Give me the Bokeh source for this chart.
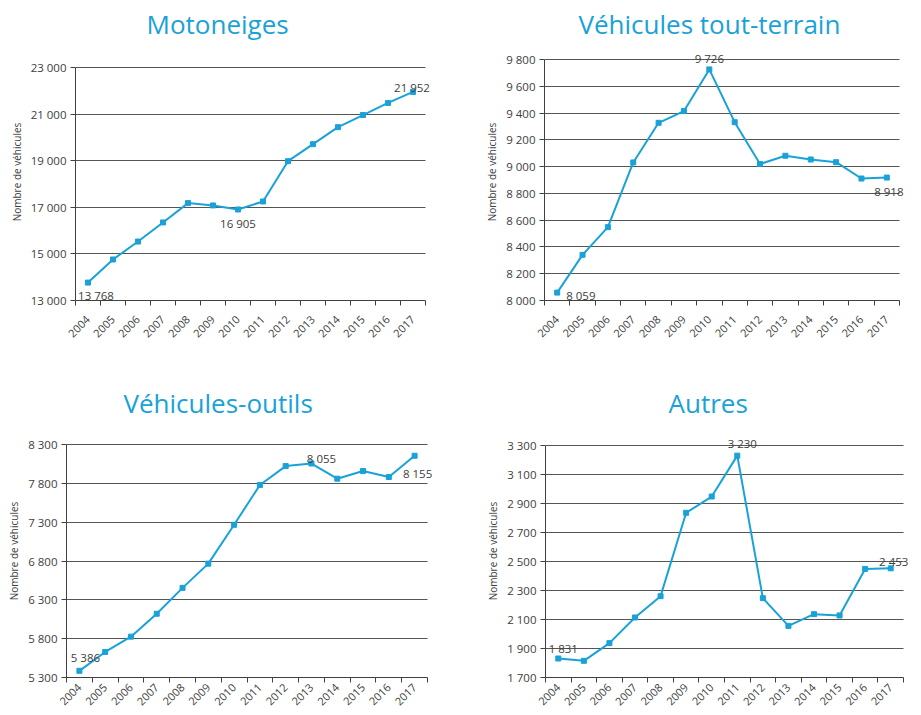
import math
from bokeh.plotting import figure
from bokeh.models import Range1d, FixedTicker, Label
from bokeh.layouts import column, row
from bokeh.embed import file_html
from bokeh.resources import INLINE

# ---------------- data ----------------
years = list(range(2004, 2018))

titles = ["Motoneiges", "Véhicules tout-terrain", "Véhicules-outils", "Autres"]
y_axis_label = "Nombre de véhicules"

motoneiges = [13768, 14760, 15530, 16350, 17180, 17080, 16905, 17250, 18980, 19710, 20440, 20960, 21480, 21952]
vtt = [8059, 8341, 8548, 9031, 9327, 9415, 9726, 9332, 9019, 9081, 9053, 9033, 8911, 8918]
outils = [5386, 5629, 5826, 6121, 6454, 6766, 7266, 7779, 8022, 8055, 7860, 7958, 7881, 8155]
autres = [1831, 1815, 1937, 2114, 2261, 2836, 2948, 3230, 2247, 2056, 2137, 2128, 2449, 2453]

yticks_moto = [13000, 15000, 17000, 19000, 21000, 23000]
yticks_vtt = [8000, 8200, 8400, 8600, 8800, 9000, 9200, 9400, 9600, 9800]
yticks_outils = [5300, 5800, 6300, 6800, 7300, 7800, 8300]
yticks_autres = [1700, 1900, 2100, 2300, 2500, 2700, 2900, 3100, 3300]

# indices of labelled points per panel
labelled_moto = [0, 6, 13]
labelled_vtt = [0, 6, 13]
labelled_outils = [0, 9, 13]
labelled_autres = [0, 7, 13]

# ---------------- style ----------------
BLUE = "#19a2d8"
TXT = "#404040"
GRID = "#555555"
FONT = "Open Sans"
PAD_R = 7  # px of free room right of the last category (for data labels)


def fmt(v):
    return f"{v:,}".replace(",", " ")


def make_panel(title, values, yticks, labelled, label_pos, geom, borders,
               title_offset, title_standoff, xlab_standoff):
    # geom: plot-area pixel geometry (inside the figure)
    area_w, pad_top, area_h = geom
    left, right, top, bottom = borders
    ymin, ymax = yticks[0], yticks[-1]
    px_per_cat = area_w / len(years)
    px_per_unit = area_h / (ymax - ymin)
    x0 = years[0] - 0.5
    x1 = years[-1] + 0.5
    p = figure(frame_width=area_w + PAD_R, frame_height=area_h + pad_top,
               min_border_left=left, min_border_right=right,
               min_border_top=top, min_border_bottom=bottom,
               x_range=Range1d(x0, x1 + PAD_R / px_per_cat),
               y_range=Range1d(ymin, ymax + pad_top / px_per_unit),
               output_backend="svg", toolbar_location=None, tools="",
               title=title)
    p.title.align = "left"
    p.title.offset = title_offset
    p.title.standoff = title_standoff
    p.title.text_font = FONT
    p.title.text_font_size = "26px"
    p.title.text_font_style = "normal"
    p.title.text_color = BLUE
    p.outline_line_color = None
    p.background_fill_color = "white"
    p.border_fill_color = "white"

    p.xgrid.visible = False
    yg = p.ygrid[0]
    yg.ticker = FixedTicker(ticks=yticks)
    yg.grid_line_color = GRID
    yg.grid_line_width = 1.1
    try:
        yg.cross_bounds = (x0, x1)
    except Exception:
        pass

    ya = p.yaxis[0]
    ya.ticker = FixedTicker(ticks=yticks, minor_ticks=[])
    ya.bounds = (ymin, ymax)
    ya.major_label_overrides = {t: fmt(t) for t in yticks}
    ya.major_tick_out = 5
    ya.major_tick_in = 0
    ya.minor_tick_out = 0
    ya.minor_tick_in = 0
    ya.axis_line_color = TXT
    ya.major_tick_line_color = TXT
    ya.major_label_text_font = FONT
    ya.major_label_text_font_size = "11.5px"
    ya.major_label_text_color = TXT
    ya.major_label_standoff = 4
    ya.axis_label = y_axis_label
    ya.axis_label_text_font = FONT
    ya.axis_label_text_font_size = "10px"
    ya.axis_label_text_font_style = "normal"
    ya.axis_label_text_color = TXT
    ya.axis_label_standoff = 4

    xa = p.xaxis[0]
    xa.ticker = FixedTicker(ticks=years,
                            minor_ticks=[y - 0.5 for y in years] + [years[-1] + 0.5])
    xa.bounds = (x0, x1)
    xa.major_label_overrides = {y: str(y) for y in years}
    xa.major_tick_in = 0
    xa.major_tick_out = 0
    xa.minor_tick_in = 0
    xa.minor_tick_out = 5
    xa.minor_tick_line_color = TXT
    xa.axis_line_color = TXT
    xa.major_label_orientation = math.pi / 4
    xa.major_label_text_font = FONT
    xa.major_label_text_font_size = "11px"
    xa.major_label_text_color = TXT
    xa.major_label_standoff = xlab_standoff

    p.line(years, values, line_color=BLUE, line_width=2)
    p.scatter(years, values, marker="square", size=5, color=BLUE)

    for i, (dx, dy, align) in zip(labelled, label_pos):
        p.add_layout(Label(x=years[i], y=values[i], text=fmt(values[i]),
                           x_offset=dx, y_offset=dy, text_align=align,
                           text_baseline="alphabetic", text_font=FONT,
                           text_font_size="11.5px", text_color=TXT))
    return p


# top row: figures y 0..377, frames top 43, x axis at 300
# bottom row: figures y 377..715, frames top 424, x axis at 677
p1 = make_panel(titles[0], motoneiges, yticks_moto, labelled_moto,
                [(8, -13, "center"), (0, -14, "center"), (-1, 4, "center")],
                (350, 24, 233), (75, 28, 43, 77), 71, 4, 12)
p2 = make_panel(titles[1], vtt, yticks_vtt, labelled_vtt,
                [(9, -3, "left"), (0, 11, "center"), (2, -14, "center")],
                (355, 16, 241), (84, 14, 43, 77), 34, 4, 12)
p3 = make_panel(titles[2], outils, yticks_outils, labelled_outils,
                [(6, 13, "center"), (10, 5, "center"), (3, -18, "center")],
                (361, 20, 233), (66, 26, 47, 38), 57, 8, 3)
p4 = make_panel(titles[3], autres, yticks_autres, labelled_autres,
                [(5, 10, "center"), (5, 12, "center"), (3, 7, "center")],
                (358, 21, 232), (85, 10, 47, 38), 123, 8, 3)

layout = column(row(p1, p2), row(p3, p4))

with open("out.html", "w") as f:
    f.write(file_html(layout, INLINE))
